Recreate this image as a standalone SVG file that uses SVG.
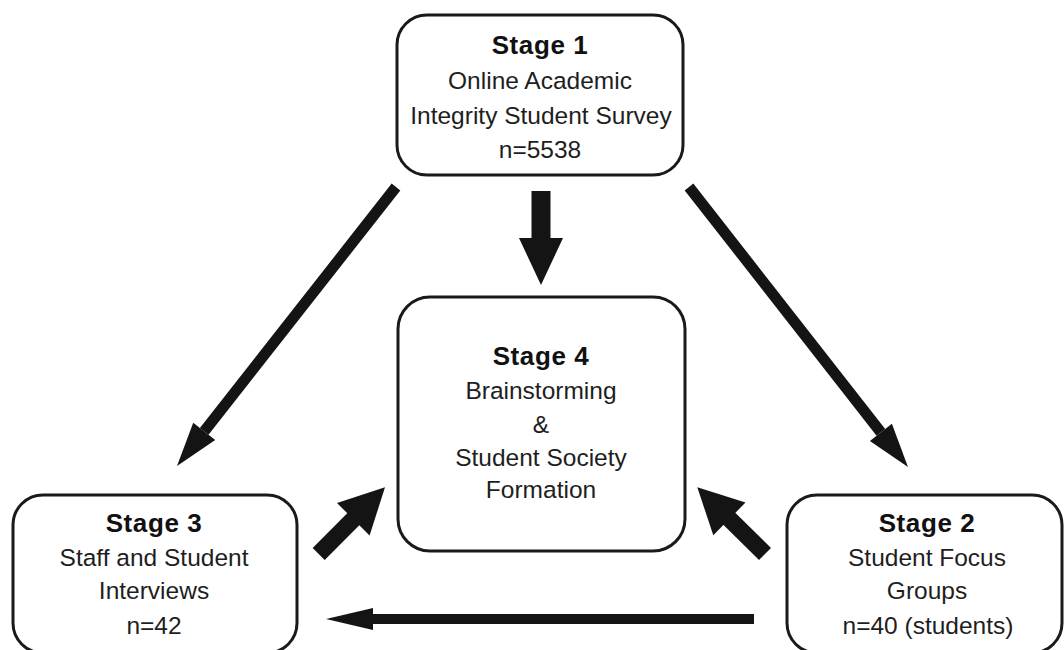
<svg xmlns="http://www.w3.org/2000/svg" width="1064" height="650" viewBox="0 0 1064 650">
<style>
.box{fill:#fff;stroke:#1a1a1a;stroke-width:3}
.t{font-family:"Liberation Sans",Arial,Helvetica,sans-serif;font-size:24.5px;fill:#1e1e1e;text-anchor:middle}
.h{font-weight:bold;font-size:26px;letter-spacing:0.6px;fill:#111}
.shaft{stroke:#141414;fill:none;stroke-linecap:butt}
.head{fill:#141414}
</style>
<rect width="1064" height="650" fill="#fff"/>
<g id="connectors">
  <path class="head" d="M531.5,191 H550.5 V238 H563 L541,285 L519,238 H531.5 Z"/>
  <line class="shaft" x1="396" y1="187" x2="204.2" y2="431.4" stroke-width="11"/>
  <path class="head" d="M177,466 L215.2,440 L193.2,422.8 Z"/>
  <line class="shaft" x1="689" y1="187" x2="880.9" y2="432.3" stroke-width="11"/>
  <path class="head" d="M908,467 L891.9,423.7 L869.9,440.9 Z"/>
  <line class="shaft" x1="318.7" y1="554" x2="355" y2="517.5" stroke-width="17"/>
  <path class="head" d="M385,487.3 L369.6,535.4 L337,503 Z"/>
  <line class="shaft" x1="765" y1="554" x2="728" y2="517.5" stroke-width="17"/>
  <path class="head" d="M697.3,487.3 L745.5,502.5 L713.3,535.3 Z"/>
  <line class="shaft" x1="754" y1="619" x2="371" y2="619" stroke-width="10"/>
  <path class="head" d="M326,619 L373,608 L373,630 Z"/>
</g>
<g id="stage1">
  <rect class="box" x="397" y="15" width="286" height="160" rx="30"/>
  <text class="t h" x="540" y="54">Stage 1</text>
  <text class="t" x="540" y="89">Online Academic</text>
  <text class="t" x="541" y="124">Integrity Student Survey</text>
  <text class="t" x="540" y="158">n=5538</text>
</g>
<g id="stage4">
  <rect class="box" x="398" y="297" width="287" height="254" rx="32"/>
  <text class="t h" x="541" y="365">Stage 4</text>
  <text class="t" x="541" y="399">Brainstorming</text>
  <text class="t" x="541" y="433">&amp;</text>
  <text class="t" x="541" y="466">Student Society</text>
  <text class="t" x="541" y="498">Formation</text>
</g>
<g id="stage3">
  <rect class="box" x="13" y="495" width="284" height="158" rx="30"/>
  <text class="t h" x="154" y="532">Stage 3</text>
  <text class="t" x="154" y="566">Staff and Student</text>
  <text class="t" x="154" y="599">Interviews</text>
  <text class="t" x="154" y="634">n=42</text>
</g>
<g id="stage2">
  <rect class="box" x="787" y="495" width="275" height="158" rx="30"/>
  <text class="t h" x="927" y="532">Stage 2</text>
  <text class="t" x="927" y="566">Student Focus</text>
  <text class="t" x="927" y="599">Groups</text>
  <text class="t" x="928" y="634">n=40 (students)</text>
</g>
</svg>
